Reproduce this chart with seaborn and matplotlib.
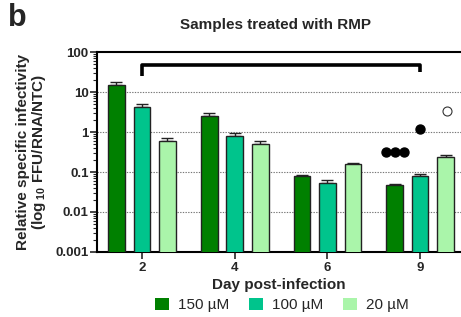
import matplotlib
matplotlib.use("Agg")
import matplotlib.pyplot as plt
import seaborn as sns
import pandas as pd
import numpy as np
from matplotlib.ticker import LogLocator, FixedLocator, NullFormatter

days = ["2", "4", "6", "9"]
concentrations = ["150 µM", "100 µM", "20 µM"]
vals_150 = [15.0, 2.5, 0.079, 0.047]
vals_100 = [4.2, 0.8, 0.054, 0.079]
vals_20 = [0.6, 0.5, 0.155, 0.24]
err_150 = [2.5, 0.5, 0.006, 0.003]
err_100 = [0.8, 0.15, 0.008, 0.008]
err_20 = [0.12, 0.1, 0.015, 0.02]
colors = ["#008000", "#00C48C", "#AAF5AA"]

sns.set_theme(style="white")
plt.rcParams['font.family'] = ['Liberation Sans', 'DejaVu Sans']
plt.rcParams['mathtext.fontset'] = 'custom'
plt.rcParams['mathtext.bf'] = 'Liberation Sans:bold'
plt.rcParams['mathtext.rm'] = 'Liberation Sans'

rows = []
for c, v in zip(concentrations, [vals_150, vals_100, vals_20]):
    for d, val in zip(days, v):
        rows.append({"day": d, "conc": c, "val": val})
df = pd.DataFrame(rows)

fig = plt.figure(figsize=(4.61, 3.17), dpi=100)
ax = fig.add_axes([97/461, 1-252/317, 1-97/461, 200/317])

sns.barplot(data=df, x="day", y="val", hue="conc", palette=colors, saturation=1,
            width=0.825, gap=0.35, edgecolor="#222222", linewidth=1.0,
            errorbar=None, ax=ax, legend=True, zorder=3)
ax.set_yscale("log")
ax.set_ylim(0.001, 100)
ax.set_xlim(-0.485, 3.44)

# error bars
offsets = [-0.275, 0.0, 0.275]
for off, v, e in zip(offsets, [vals_150, vals_100, vals_20], [err_150, err_100, err_20]):
    xs = np.arange(len(days)) + off
    ax.errorbar(xs, v, yerr=[np.zeros(len(v)), e], fmt="none", ecolor="#222222",
                elinewidth=1.0, capsize=4, capthick=1.0, zorder=2)

# dots above day 9
dot_x = [2.63, 2.73, 2.83, 3.0]
dot_y = [0.316, 0.316, 0.316, 1.19]
ax.scatter(dot_x, dot_y, s=42, color="black", zorder=4)
ax.scatter([3.29], [3.35], s=42, facecolor="white", edgecolor="#333333", linewidth=0.8, zorder=4)

# bracket
ax.plot([0, 0, 3, 3], [25, 47, 47, 31], color="black", lw=2.6, solid_capstyle="butt", zorder=4)

# grid
for g in [10, 1, 0.1, 0.01]:
    ax.axhline(g, color="#777777", lw=0.8, ls=(0, (1.2, 1.2)), zorder=1)

ax.yaxis.set_major_locator(FixedLocator([0.001, 0.01, 0.1, 1, 10, 100]))
ax.set_yticklabels(["0.001", "0.01", "0.1", "1", "10", "100"])
ax.yaxis.set_minor_locator(LogLocator(base=10, subs=np.arange(2, 10), numticks=20))
ax.yaxis.set_minor_formatter(NullFormatter())
ax.tick_params(axis="y", which="major", direction="out", length=5, width=1.2, left=True,
               labelsize=9.5, pad=1)
ax.tick_params(axis="y", which="minor", direction="out", length=3, width=0.8, left=True)
ax.tick_params(axis="x", which="major", direction="out", length=5, width=1.2, bottom=True,
               labelsize=9.5, pad=2)
for lab in ax.get_yticklabels() + ax.get_xticklabels():
    lab.set_fontweight("bold")

for s in ["left", "bottom", "top"]:
    ax.spines[s].set_visible(True)
    ax.spines[s].set_color("black")
    ax.spines[s].set_linewidth(1.5)
ax.spines["right"].set_visible(False)

ax.set_xlabel("Day post-infection", fontsize=11, fontweight="bold", labelpad=3)
ax.set_ylabel("Relative specific infectivity\n(log$\\,_{\\mathbf{10}}$ FFU/RNA/NTC)",
              fontsize=11, fontweight="bold", labelpad=5, linespacing=1.0)

fig.text(275/461, 1-25/317, "Samples treated with RMP", ha="center", va="center",
         fontsize=11, fontweight="bold")
fig.text(8/461, 1-18/317, "b", ha="left", va="center", fontsize=22, fontweight="bold")

handles, labels = ax.get_legend_handles_labels()
ax.legend_.remove()
fig.legend(handles, labels, loc="center", bbox_to_anchor=(282/461, 1-305/317), ncol=3,
           frameon=False, fontsize=11, handlelength=0.9, handleheight=0.9,
           handletextpad=0.6, columnspacing=1.3)
for h in fig.legends[0].legend_handles:
    h.set_edgecolor("none")

fig.savefig("out.png", dpi=100)
